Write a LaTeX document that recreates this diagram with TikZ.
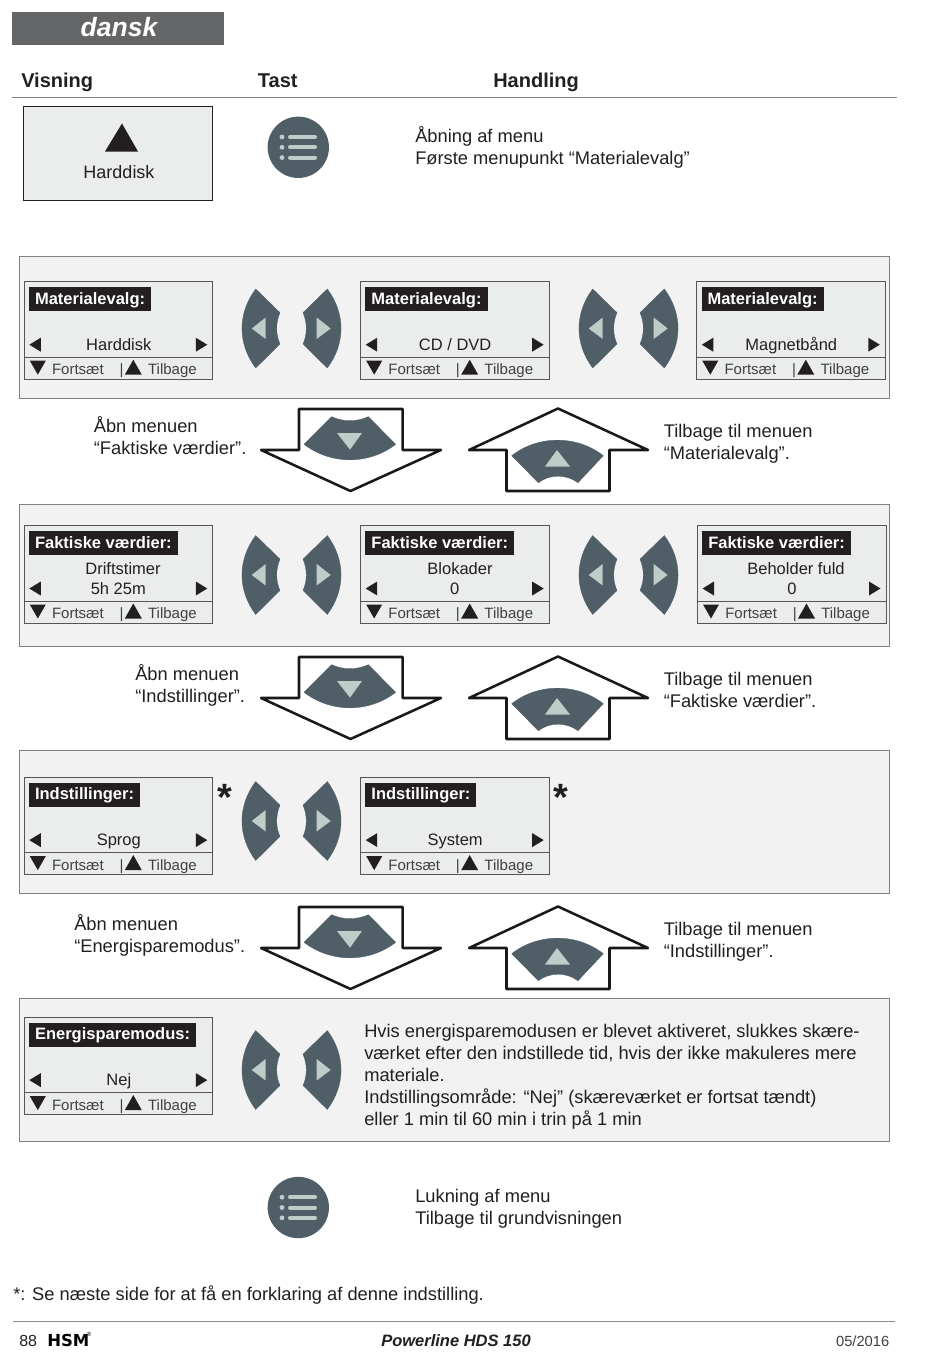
\documentclass[tikz,border=0pt]{standalone}
\usepackage{fontspec}
\setmainfont{Liberation Sans}
\newfontfamily\logofont{DejaVu Sans}
\definecolor{keyc}{HTML}{4F5E67}
\definecolor{keyl}{HTML}{BFCCC8}
\definecolor{panelc}{HTML}{F2F2F2}
\definecolor{panelb}{HTML}{808080}
\definecolor{lcdc}{HTML}{EBEDEC}
\definecolor{lcdb}{HTML}{555555}
\definecolor{inkc}{HTML}{231F20}
\definecolor{tabc}{HTML}{646566}
\newcommand{\pxfont}[1]{\fontsize{\dimexpr#1pt*3/4\relax}{\dimexpr#1pt\relax}\selectfont}
\tikzset{
  panelbox/.style={draw=panelb,line width=0.6pt,fill=panelc},
  lcdbox/.style={draw=lcdb,line width=0.7pt,fill=lcdc},
  keyshape/.style={fill=keyc,draw=keyc,line width=0.25pt,line join=round},
  keytri/.style={fill=keyl,draw=none},
  arrowline/.style={draw=black!90,line width=1.9pt,line join=round,fill=white},
  bodytext/.style={anchor=base west,inner sep=0pt,text=inkc,font=\pxfont{18.3}},
  lcdmid/.style={anchor=base,inner sep=0pt,text=inkc,font=\pxfont{16.5}},
  lcdsmall/.style={anchor=base west,inner sep=0pt,text=black!75,font=\pxfont{15}},
  headtext/.style={anchor=base west,inner sep=0pt,text=inkc,font=\bfseries\pxfont{20}},
  titlebox/.style={anchor=north west,fill=inkc,text=white,font=\bfseries\pxfont{16.5},inner xsep=4.5pt,inner ysep=0pt,text height=12.6pt,text depth=5.2pt},
  starmark/.style={inner sep=0pt,text=inkc,font=\bfseries\pxfont{38}},
}
% #1 id, #2 x, #3 y, #4 title, #5 item text, #6 x of item
\newcommand{\lcd}[6]{%
\begin{scope}[shift={(#2,#3)}]
\draw[lcdbox] (0,0) rectangle (188.5,97.5);
\draw[lcdb,line width=0.7pt] (0,75.7) -- (188.5,75.7);
\node[titlebox] (#1t) at (4.5,5.5) {#4};
\fill[inkc] (5,63) -- (16.5,56) -- (16.5,70) -- cycle;
\fill[inkc] (183,63) -- (171.5,56) -- (171.5,70) -- cycle;
\node[lcdmid] (#1i) at (#6,68.5) {#5};
\fill[inkc] (5.5,79) -- (21.5,79) -- (13.5,93) -- cycle;
\node[lcdsmall] (#1f) at (27.5,93) {Fortsæt};
\node[lcdsmall] (#1s) at (95,93) {|};
\fill[inkc] (100.5,93) -- (117.5,93) -- (109,78) -- cycle;
\node[lcdsmall] (#1b) at (123.5,93) {Tilbage};
\end{scope}}
% #1 x offset, #2 centre y
\newcommand{\keypair}[2]{%
\begin{scope}[shift={(#1,#2)}]
\path[keyshape] (13.7,-39.5) -- (38,-15.8) .. controls (33.6,-6) and (33.6,6) .. (38,15.5) -- (13.7,39.5) .. controls (-4.6,15) and (-4.6,-15) .. (13.7,-39.5) -- cycle;
\fill[keytri] (9.7,0) -- (23.7,-11) -- (23.7,10.5) -- cycle;
\path[keyshape] (85.3,-39.5) -- (61,-15.8) .. controls (65.4,-6) and (65.4,6) .. (61,15.5) -- (85.3,39.5) .. controls (103.6,15) and (103.6,-15) .. (85.3,-39.5) -- cycle;
\fill[keytri] (88.7,0) -- (74.7,-11) -- (74.7,10.5) -- cycle;
\end{scope}}
% #1 y offset
\newcommand{\arrowpair}[1]{%
\begin{scope}[shift={(0,#1)}]
\draw[arrowline] (299,409) -- (402.7,409) -- (402.7,450) -- (441,450) -- (350.5,491) -- (261,450) -- (299,450) -- cycle;
\path[keyshape] (331.7,416.7) .. controls (343,422) and (357,422) .. (368.3,416.7) -- (395.7,444.3) .. controls (369,465) and (331,465) .. (304,444.3) -- cycle;
\fill[keytri] (337,433) -- (362,433) -- (350,449.7) -- cycle;
\draw[arrowline] (558,408.5) -- (648,450) -- (609.5,450) -- (609.5,491) -- (506.5,491) -- (506.5,450) -- (469,450) -- cycle;
\path[keyshape] (511.7,455.7) .. controls (538,435) and (577,435) .. (603.3,455.7) -- (578,482.7) .. controls (566,474) and (550,474) .. (538.3,482.7) -- cycle;
\fill[keytri] (545,466.5) -- (570,466.5) -- (557,450) -- cycle;
\end{scope}}
% #1 id, #2 centre y
\newcommand{\menukey}[2]{%
\node[circle,fill=keyc,minimum size=46pt,inner sep=0pt] (#1) at (298.3,#2) {};
\foreach \dy in {-10.3,0,10.3}{%
  \fill[keyl] (282,#2+\dy) circle [radius=2.4];
  \draw[keyl,line width=3pt,line cap=round] (290,#2+\dy) -- (315,#2+\dy);
}}
\begin{document}
\begin{tikzpicture}[x=0.75pt,y=-0.75pt]
\useasboundingbox (0,0) rectangle (950,1360);
\fill[white] (0,0) rectangle (950,1360);
% language tab
\fill[tabc] (12,12) rectangle (224,45);
\node[inner sep=0pt,text=white,font=\bfseries\itshape\pxfont{26.5}] (lang) at (119,27) {dansk};
% headers
\node[headtext] (hv) at (21,87.5) {Visning};
\node[headtext] (ht) at (257.7,87.5) {Tast};
\node[headtext] (hh) at (493,87.5) {Handling};
\draw[black!50,line width=0.6pt] (12,97) -- (897,97);
% first display
\draw[draw=inkc,line width=0.7pt,fill=lcdc] (23.3,106.7) rectangle (212,200.5);
\fill[inkc] (105,151.5) -- (138,151.5) -- (122,123.5) -- cycle;
\node[anchor=base,inner sep=0pt,text=inkc,font=\pxfont{18}] (d0) at (119,178) {Harddisk};
\menukey{m1}{147.3}
\node[bodytext] (a1) at (415,142.5) {Åbning af menu};
\node[bodytext] (a2) at (415,164.5) {Første menupunkt “Materialevalg”};
% panels
\draw[panelbox] (19.6,256) rectangle (889.5,398.5);
\draw[panelbox] (19.6,504) rectangle (889.5,646);
\draw[panelbox] (19.6,750.5) rectangle (889.5,893);
\draw[panelbox] (19.6,998) rectangle (889.5,1141);
% row 1
\lcd{ra}{24.3}{281.7}{Materialevalg:}{Harddisk}{94.5}
\lcd{rb}{360.7}{281.7}{Materialevalg:}{CD / DVD}{94.5}
\lcd{rc}{696.8}{281.7}{Materialevalg:}{Magnetbånd}{94.5}
\keypair{242}{328.5}
\keypair{579}{328.5}
% row 2
\lcd{sa}{24.3}{525.5}{Faktiske værdier:}{5h 25m}{94}
\node[lcdmid] (sa2) at (123,574) {Driftstimer};
\lcd{sb}{360.7}{525.5}{Faktiske værdier:}{0}{94}
\node[lcdmid] (sb2) at (460,574) {Blokader};
\lcd{sc}{697.5}{525.5}{Faktiske værdier:}{0}{94.5}
\node[lcdmid] (sc2) at (796,574) {Beholder fuld};
\keypair{242}{575}
\keypair{579}{575}
% row 3
\lcd{ta}{24.3}{777.1}{Indstillinger:}{Sprog}{94.5}
\lcd{tb}{360.7}{777.1}{Indstillinger:}{System}{94.5}
\keypair{242}{821}
\node[starmark] (s1) at (225,797.5) {*};
\node[starmark] (s2) at (561,797.5) {*};
% row 4
\lcd{ua}{24.3}{1017.1}{Energisparemodus:}{Nej}{94.5}
\keypair{242}{1070}
\node[bodytext] (p1) at (364,1037.8) {Hvis energisparemodusen er blevet aktiveret, slukkes skære-};
\node[bodytext] (p2) at (364,1059.8) {værket efter den indstillede tid, hvis der ikke makuleres mere};
\node[bodytext] (p3) at (364,1081.8) {materiale.};
\node[bodytext] (p4) at (364,1103.8) {Indstillingsområde: “Nej” (skæreværket er fortsat tændt)};
\node[bodytext] (p5) at (364,1125.8) {eller 1 min til 60 min i trin på 1 min};
% arrows
\arrowpair{0}
\arrowpair{248}
\arrowpair{498}
\node[bodytext] (b1) at (93.6,432) {Åbn menuen};
\node[bodytext] (b2) at (93.6,454) {“Faktiske værdier”.};
\node[bodytext] (b3) at (663.5,437) {Tilbage til menuen};
\node[bodytext] (b4) at (663.5,459) {“Materialevalg”.};
\node[bodytext] (c1) at (135,680) {Åbn menuen};
\node[bodytext] (c2) at (135,702) {“Indstillinger”.};
\node[bodytext] (c3) at (663.5,685) {Tilbage til menuen};
\node[bodytext] (c4) at (663.5,707) {“Faktiske værdier”.};
\node[bodytext] (e1) at (74,930) {Åbn menuen};
\node[bodytext] (e2) at (74,952) {“Energisparemodus”.};
\node[bodytext] (e3) at (663.5,935) {Tilbage til menuen};
\node[bodytext] (e4) at (663.5,957) {“Indstillinger”.};
% closing
\menukey{m2}{1207.5}
\node[bodytext] (z1) at (415,1202.5) {Lukning af menu};
\node[bodytext] (z2) at (415,1224.5) {Tilbage til grundvisningen};
\node[bodytext] (fn) at (13,1300) {*: Se næste side for at få en forklaring af denne indstilling.};
% footer
\draw[black!45,line width=0.6pt] (13,1321) -- (895,1321);
\node[anchor=base west,inner sep=0pt,text=inkc,font=\pxfont{16}] (pg) at (19,1346) {88};
\node[anchor=base west,inner sep=0pt,text=black,font=\logofont\bfseries\pxfont{16.5}] (logo) at (47,1346) {HSM};
\node[inner sep=0pt,text=black,font=\pxfont{6}] (logor) at (89,1334) {®};
\node[anchor=base,inner sep=0pt,text=inkc,font=\bfseries\itshape\pxfont{16.5}] (ft) at (456,1346) {Powerline HDS 150};
\node[anchor=base east,inner sep=0pt,text=black!75,font=\pxfont{14.7}] (fd) at (889.5,1346) {05/2016};
\end{tikzpicture}
\end{document}
